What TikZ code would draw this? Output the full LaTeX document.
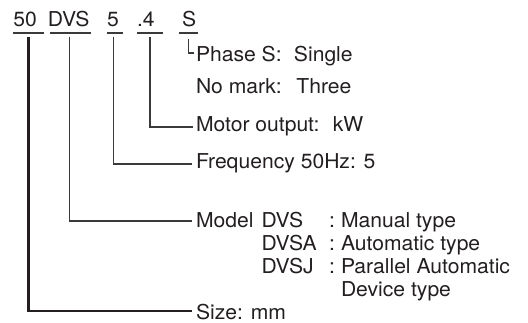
\documentclass[tikz,border=0pt]{standalone}
\usepackage{fontspec}
\setmainfont{TeX Gyre Heros}[FakeStretch=1.03]
\definecolor{ink}{HTML}{231F20}
\definecolor{wire}{HTML}{3A3A3A}
\begin{document}
\begin{tikzpicture}[x=1pt,y=-1pt,
  txt/.style={anchor=base west,inner sep=0pt,outer sep=0pt,text=ink,font=\fontsize{20.5}{24}\selectfont},
  wirethin/.style={draw=wire,line width=1.1pt},
  wirethick/.style={draw=ink,line width=2.5pt},
  uline/.style={draw=wire,line width=1.1pt}]
\useasboundingbox (0,0) rectangle (528,322);
% code
\node[txt] (c50) at (13.3,26.7) {50};
\node[txt] (cDVS) at (47.8,26.7) {DVS};
\node[txt] (c5) at (107,26.7) {5};
\node[txt] (c4) at (137,26.7) {.4};
\node[txt] (cS) at (182,26.7) {S};
% underlines
\draw[uline] (12.7,33) -- (44.3,33);
\draw[uline] (50,33) -- (90.5,33);
\draw[uline] (107,33) -- (123,33);
\draw[uline] (137,33) -- (162.5,33);
\draw[uline] (179,33) -- (197.5,33);
% labels
\node[txt] (lphase) at (196,61) {\makebox[98pt][l]{Phase S:}Single};
\node[txt] (lnomark) at (196,93.5) {\makebox[100.5pt][l]{No mark:}Three};
\node[txt] (lmotor) at (196,131.5) {\makebox[137pt][l]{Motor output:}kW};
\node[txt] (lfreq) at (196,168) {Frequency 50Hz: 5};
\node[txt] (lmodel) at (196,227) {Model};
\node[txt] (m1) at (261.5,227) {DVS};
\node[txt] (m2) at (261.5,250) {DVSA};
\node[txt] (m3) at (261.5,273) {DVSJ};
\node[txt] (k1) at (329,227) {:};
\node[txt] (k2) at (329,250) {:};
\node[txt] (k3) at (329,273) {:};
\node[txt] (d1) at (341,227) {Manual type};
\node[txt] (d2) at (341,250) {Automatic type};
\node[txt] (d3) at (341,273) {Parallel Automatic};
\node[txt] (d4) at (341,296.5) {Device type};
\node[txt] (lsize) at (196,319) {Size: mm};
% connector ends
\coordinate (sS) at (188.2,38.5);
\coordinate (eS) at (194,53);
\coordinate (s4) at (150,36.5);
\coordinate (e4) at (193,127);
\coordinate (s5) at (113.5,36.5);
\coordinate (e5) at (192,164);
\coordinate (sDVS) at (69.5,36.5);
\coordinate (eDVS) at (192,221);
\coordinate (s50) at (28.5,36.5);
\coordinate (e50) at (192,311);
\draw[wirethin] (sS) |- (eS);
\draw[wirethin] (s4) |- (e4);
\draw[wirethin] (s5) |- (e5);
\draw[wirethin] (sDVS) |- (eDVS);
\draw[wirethick] (s50) |- (e50);
\end{tikzpicture}
\end{document}
